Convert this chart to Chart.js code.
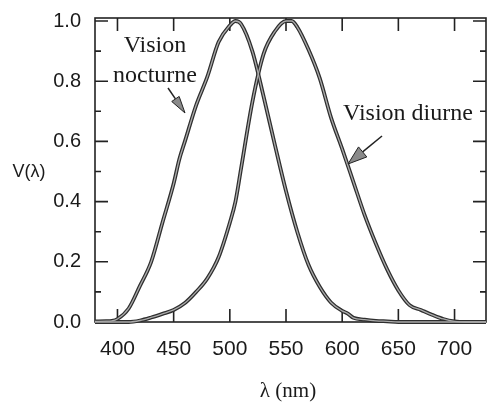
<!DOCTYPE html>
<html>
<head>
<meta charset="utf-8">
<script src="https://cdn.jsdelivr.net/npm/chart.js@4.4.1/dist/chart.umd.min.js"></script>
<style>html,body{margin:0;padding:0;background:#fff}</style>
</head>
<body>
<canvas id="grafico" width="487" height="403"></canvas>
<script>
// longueurs d'onde (nm) et sensibilité relative V(λ)
const nuitLambda = [380,390,395,400,410,420,430,440,450,455,460,470,480,490,500,505,510,520,530,540,550,560,570,580,590,600,605,610,620,630,640,650,700,728];
const nuitV = [0.002,0.003,0.004,0.01,0.045,0.12,0.20,0.33,0.46,0.54,0.60,0.72,0.815,0.93,0.985,1.0,0.99,0.90,0.75,0.59,0.435,0.30,0.19,0.117,0.065,0.037,0.028,0.014,0.008,0.004,0.002,0,0,0];

const jourLambda = [380,400,410,420,430,440,450,460,470,480,490,500,505,510,520,530,540,550,555,560,570,580,590,600,610,620,630,640,650,660,670,680,690,700,710,728];
const jourV = [0,0,0,0.005,0.015,0.027,0.04,0.063,0.10,0.145,0.215,0.33,0.40,0.51,0.73,0.89,0.965,1.0,1.0,0.98,0.905,0.81,0.68,0.575,0.465,0.355,0.26,0.175,0.105,0.056,0.04,0.024,0.01,0.002,0,0];

const xTicks = [400,450,500,550,600,650,700];
const xLabels = ['400','450','500','550','600','650','700'];
const yTicks = [0,0.2,0.4,0.6,0.8,1.0];
const yLabels = ['0.0','0.2','0.4','0.6','0.8','1.0'];
const yMinor = [0.1,0.3,0.5,0.7,0.9];

const points = (xs, ys) => xs.map((x, i) => ({x: x, y: ys[i]}));

function courbe(data, couleur, largeur, ordre) {
    return {
        data: data,
        borderColor: couleur,
        borderWidth: largeur,
        pointRadius: 0,
        cubicInterpolationMode: 'monotone',
        clip: 6,
        order: ordre
    };
}

// cadre + graduations vers l'intérieur
const cadre = {
    id: 'cadre',
    beforeDatasetsDraw(chart) {
        const ctx = chart.ctx;
        const a = chart.chartArea;
        const sx = chart.scales.x, sy = chart.scales.y;
        ctx.save();
        ctx.strokeStyle = '#222';
        ctx.lineWidth = 1.6;
        ctx.strokeRect(a.left, a.top, a.right - a.left, a.bottom - a.top);
        ctx.beginPath();
        xTicks.forEach(v => {
            const px = sx.getPixelForValue(v);
            ctx.moveTo(px, a.bottom); ctx.lineTo(px, a.bottom - 13);
            ctx.moveTo(px, a.top); ctx.lineTo(px, a.top + 13);
        });
        yTicks.forEach(v => {
            const py = sy.getPixelForValue(v);
            ctx.moveTo(a.left, py); ctx.lineTo(a.left + 13, py);
            ctx.moveTo(a.right, py); ctx.lineTo(a.right - 13, py);
        });
        yMinor.forEach(v => {
            const py = sy.getPixelForValue(v);
            ctx.moveTo(a.left, py); ctx.lineTo(a.left + 6, py);
            ctx.moveTo(a.right, py); ctx.lineTo(a.right - 6, py);
        });
        ctx.stroke();
        ctx.restore();
    }
};

function fleche(ctx, x0, y0, x1, y1, longueur, demi) {
    const ang = Math.atan2(y1 - y0, x1 - x0);
    const bx = x1 - longueur * Math.cos(ang), by = y1 - longueur * Math.sin(ang);
    ctx.beginPath();
    ctx.moveTo(x0, y0); ctx.lineTo(bx, by);
    ctx.strokeStyle = '#222'; ctx.lineWidth = 1.5;
    ctx.stroke();
    ctx.beginPath();
    ctx.moveTo(x1, y1);
    ctx.lineTo(bx + demi * Math.sin(ang), by - demi * Math.cos(ang));
    ctx.lineTo(bx - demi * Math.sin(ang), by + demi * Math.cos(ang));
    ctx.closePath();
    ctx.fillStyle = '#8a8a8a';
    ctx.fill();
    ctx.lineWidth = 1;
    ctx.stroke();
}

const textes = {
    id: 'textes',
    afterDraw(chart) {
        const ctx = chart.ctx;
        ctx.save();
        ctx.fillStyle = '#1a1a1a';
        ctx.font = '24px "Liberation Serif"';
        ctx.textAlign = 'center';
        ctx.textBaseline = 'alphabetic';
        ctx.fillText('Vision', 155, 52);
        ctx.fillText('nocturne', 155, 82);
        ctx.textAlign = 'left';
        ctx.fillText('Vision diurne', 343, 120);
        ctx.textAlign = 'center';
        ctx.textBaseline = 'middle';
        ctx.font = '18px "Liberation Sans"';
        ctx.fillText('V(λ)', 29, 172);
        ctx.font = '21px "Liberation Serif"';
        ctx.fillText('λ (nm)', 288, 391);
        fleche(ctx, 168, 88, 185, 113, 17, 4.5);
        fleche(ctx, 382, 136, 348, 164, 19, 6.5);
        ctx.restore();
    }
};

const grafica = document.getElementById('grafico').getContext('2d');
const parametros = {
    type: 'line',
    data: {
        datasets: [
            courbe(points(nuitLambda, nuitV), '#2e2e2e', 3.8, 2),
            courbe(points(jourLambda, jourV), '#2e2e2e', 3.8, 2),
            courbe(points(nuitLambda, nuitV), '#ababab', 1.3, 1),
            courbe(points(jourLambda, jourV), '#ababab', 1.3, 1)
        ]
    },
    options: {
        responsive: false,
        animation: false,
        layout: {padding: {top: 18, right: 1, left: 0, bottom: 0}},
        plugins: {legend: {display: false}, tooltip: {enabled: false}},
        scales: {
            x: {
                type: 'linear',
                min: 380,
                max: 728,
                grid: {display: false},
                border: {display: false},
                afterBuildTicks: s => { s.ticks = xTicks.map(v => ({value: v})); },
                afterFit: s => { s.height = 81; },
                ticks: {
                    callback: (v, i) => xLabels[i],
                    color: '#1a1a1a',
                    font: {family: 'Liberation Sans', size: 21},
                    padding: 7,
                    maxRotation: 0
                }
            },
            y: {
                min: 0,
                max: 1.01,
                grid: {display: false},
                border: {display: false},
                afterBuildTicks: s => { s.ticks = yTicks.map(v => ({value: v})); },
                afterFit: s => { s.width = 95; },
                ticks: {
                    callback: (v, i) => yLabels[i],
                    color: '#1a1a1a',
                    font: {family: 'Liberation Sans', size: 20},
                    padding: 6
                }
            }
        }
    },
    plugins: [cadre, textes]
};
var chart = new Chart(grafica, parametros);
</script>
</body>
</html>
